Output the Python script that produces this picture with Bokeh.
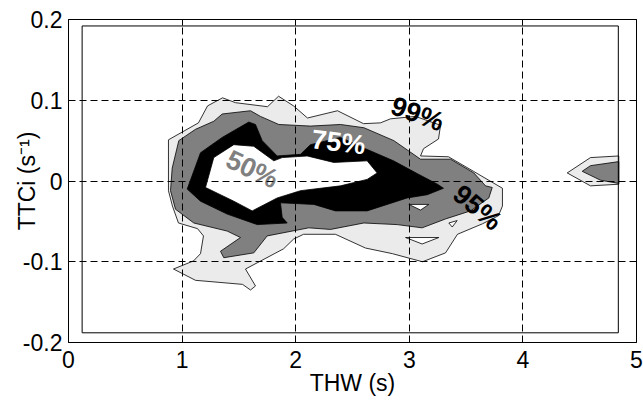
from bokeh.plotting import figure
from bokeh.models import FixedTicker, LinearAxis, ColumnDataSource
from bokeh.embed import file_html
from bokeh.resources import INLINE
from bokeh.core.properties import value

# ---------------- data ----------------
x_ticks = [0, 1, 2, 3, 4, 5]
y_ticks = [-0.2, -0.1, 0, 0.1, 0.2]
y_tick_labels = {-0.2: "-0.2", -0.1: "-0.1", 0: "0", 0.1: "0.1", 0.2: "0.2"}
x_tick_labels = {0: "0", 1: "1", 2: "2", 3: "3", 4: "4", 5: "5"}

# inner box of the contour grid (THW, TTCi)
box_x = [0.12, 4.84, 4.84, 0.12, 0.12]
box_y = [-0.188, -0.188, 0.192, 0.192, -0.188]

# 99 % contour (main region)
c99_x = [0.88, 1.144, 1.224, 1.356, 1.470, 1.752, 1.849, 1.981, 2.104, 2.368, 2.597, 2.746,
         2.835, 3.055, 3.275, 3.257, 3.125, 3.099, 3.345, 3.565, 3.820, 3.820, 3.785, 3.644,
         3.424, 3.319, 3.116, 2.852, 2.614, 2.350, 2.069, 1.981, 1.893, 1.558, 1.646, 1.602,
         1.532, 1.118, 0.924, 1.100, 1.162, 1.188, 1.136, 0.968, 0.915, 0.880]
c99_y = [0.051, 0.072, 0.093, 0.103, 0.097, 0.092, 0.105, 0.093, 0.078, 0.087, 0.071, 0.072,
         0.077, 0.080, 0.069, 0.052, 0.040, 0.031, 0.030, 0.012, -0.009, -0.031, -0.043, -0.053,
         -0.066, -0.089, -0.100, -0.090, -0.083, -0.066, -0.066, -0.072, -0.084, -0.109, -0.130, -0.135,
         -0.128, -0.123, -0.109, -0.099, -0.090, -0.068, -0.059, -0.052, -0.031, -0.012]

# 95 % contour
c95_x = [0.971, 1.118, 1.279, 1.353, 1.602, 1.690, 1.851, 2.130, 2.394, 2.600, 2.864, 3.099,
         3.363, 3.568, 3.671, 3.730, 3.700, 3.539, 3.319, 3.113, 2.893, 2.600, 2.306, 2.115,
         1.749, 1.631, 1.367, 1.338, 1.514, 1.397, 1.103, 0.942, 0.898, 0.913]
c95_y = [0.050, 0.064, 0.074, 0.083, 0.087, 0.080, 0.070, 0.068, 0.070, 0.066, 0.050, 0.027,
         0.027, 0.010, -0.006, -0.008, -0.021, -0.037, -0.047, -0.058, -0.054, -0.052, -0.060, -0.058,
         -0.068, -0.089, -0.095, -0.087, -0.070, -0.062, -0.052, -0.035, -0.012, 0.016]

# 75 % contour
c75_x = [1.045, 1.162, 1.353, 1.587, 1.646, 1.705, 1.837, 2.042, 2.130, 2.394, 2.614, 2.861,
         3.072, 3.248, 3.301, 3.158, 2.981, 2.629, 2.350, 2.160, 1.866, 1.881, 1.925, 1.661,
         1.397, 1.162]
c75_y = [-0.010, 0.035, 0.054, 0.073, 0.070, 0.050, 0.031, 0.033, 0.045, 0.054, 0.040, 0.025,
         0.009, -0.004, -0.009, -0.017, -0.021, -0.037, -0.037, -0.029, -0.027, -0.045, -0.052, -0.054,
         -0.041, -0.025]

# 50 % contour
c50_x = [1.279, 1.455, 1.631, 1.807, 1.881, 2.101, 2.335, 2.629, 2.717, 2.629, 2.394, 2.042,
         1.837, 1.617, 1.455, 1.206]
c50_y = [0.029, 0.045, 0.043, 0.025, 0.029, 0.031, 0.023, 0.025, 0.010, 0.002, -0.006, -0.012,
         -0.021, -0.037, -0.025, -0.008]

# small islands on the right (99 % and 95 %)
r99_x = [4.390, 4.595, 4.844, 4.844, 4.595]
r99_y = [0.010, 0.029, 0.031, -0.004, -0.006]
r95_x = [4.522, 4.595, 4.844, 4.844, 4.683]
r95_y = [0.012, 0.019, 0.024, -0.003, 0.001]

# small holes
holes_x = [[2.996, 3.172, 3.099], [3.348, 3.421, 3.378], [2.967, 3.260, 3.113]]
holes_y = [[-0.029, -0.029, -0.036], [-0.052, -0.049, -0.057], [-0.070, -0.070, -0.078]]

# contour labels
lab_text = ["50%", "75%", "99%", "95%"]
lab_x = [1.617, 2.377, 3.072, 3.600]
lab_y = [0.0145, 0.048, 0.083, -0.033]
lab_angle = [-25, -7, -20, -40]
lab_color = ["#808080", "#ffffff", "#000000", "#000000"]

# ---------------- figure ----------------
FONT = "Liberation Sans"

p = figure(width=643, height=412, x_range=(0, 5), y_range=(-0.2, 0.2),
           output_backend="svg", toolbar_location=None,
           min_border_left=68, min_border_right=7, min_border_top=19, min_border_bottom=70)
p.background_fill_color = "white"
p.border_fill_color = "white"
p.outline_line_color = "black"
p.outline_line_width = 1

LIGHT = "#ebebeb"
MID = "#808080"
LW = 0.8

p.patch(c99_x, c99_y, fill_color=LIGHT, line_color="black", line_width=LW)
p.patch(r99_x, r99_y, fill_color=LIGHT, line_color="black", line_width=LW)
p.patch(c95_x, c95_y, fill_color=MID, line_color="black", line_width=LW)
p.patch(r95_x, r95_y, fill_color=MID, line_color="black", line_width=LW)
p.patch(c75_x, c75_y, fill_color="black", line_color="black", line_width=LW)
p.patch(c50_x, c50_y, fill_color="white", line_color="black", line_width=LW)
p.patches(holes_x, holes_y, fill_color="white", line_color="black", line_width=LW)

p.line(box_x, box_y, line_color="black", line_width=1)

src = ColumnDataSource(dict(x=lab_x, y=lab_y, text=lab_text, angle=lab_angle, color=lab_color))
p.text(x="x", y="y", text="text", angle="angle", angle_units="deg", text_color="color",
       source=src, text_font=value(FONT), text_font_style="bold", text_font_size="27px",
       text_align="center", text_baseline="middle")

# grid
for g, t in ((p.xgrid, x_ticks), (p.ygrid, y_ticks)):
    g.ticker = FixedTicker(ticks=t)
    g.grid_line_color = "black"
    g.grid_line_dash = "7 4"
    g.grid_line_width = 1
    g.level = "overlay"

# axes
p.xaxis.ticker = FixedTicker(ticks=x_ticks)
p.yaxis.ticker = FixedTicker(ticks=y_ticks)
p.xaxis.major_label_overrides = x_tick_labels
p.yaxis.major_label_overrides = y_tick_labels
p.xaxis.axis_label = "THW (s)"
p.yaxis.axis_label = "TTCi (s\u207b\u00b9)"

for ax in (p.xaxis[0], p.yaxis[0]):
    ax.axis_line_color = None
    ax.major_tick_in = 6
    ax.major_tick_out = 0
    ax.minor_tick_line_color = None
    ax.major_tick_line_color = "black"
    ax.major_label_text_font = FONT
    ax.major_label_text_font_size = "23px"
    ax.major_label_text_color = "black"
    ax.axis_label_text_font = FONT
    ax.axis_label_text_font_size = "23px"
    ax.axis_label_text_font_style = "normal"
    ax.axis_label_text_color = "black"

p.xaxis.major_label_standoff = 8
p.xaxis.axis_label_standoff = -1
p.yaxis.major_label_standoff = 6
p.yaxis.axis_label_standoff = -20

# mirrored ticks on top and right
top = LinearAxis(ticker=FixedTicker(ticks=x_ticks),
                 major_label_overrides={t: "" for t in x_ticks})
right = LinearAxis(ticker=FixedTicker(ticks=y_ticks),
                   major_label_overrides={t: "" for t in y_ticks})
for ax in (top, right):
    ax.axis_line_color = None
    ax.major_tick_in = 6
    ax.major_tick_out = 0
    ax.minor_tick_line_color = None
    ax.major_label_standoff = 0
p.add_layout(top, "above")
p.add_layout(right, "right")

open("out.html", "w").write(file_html(p, INLINE))
